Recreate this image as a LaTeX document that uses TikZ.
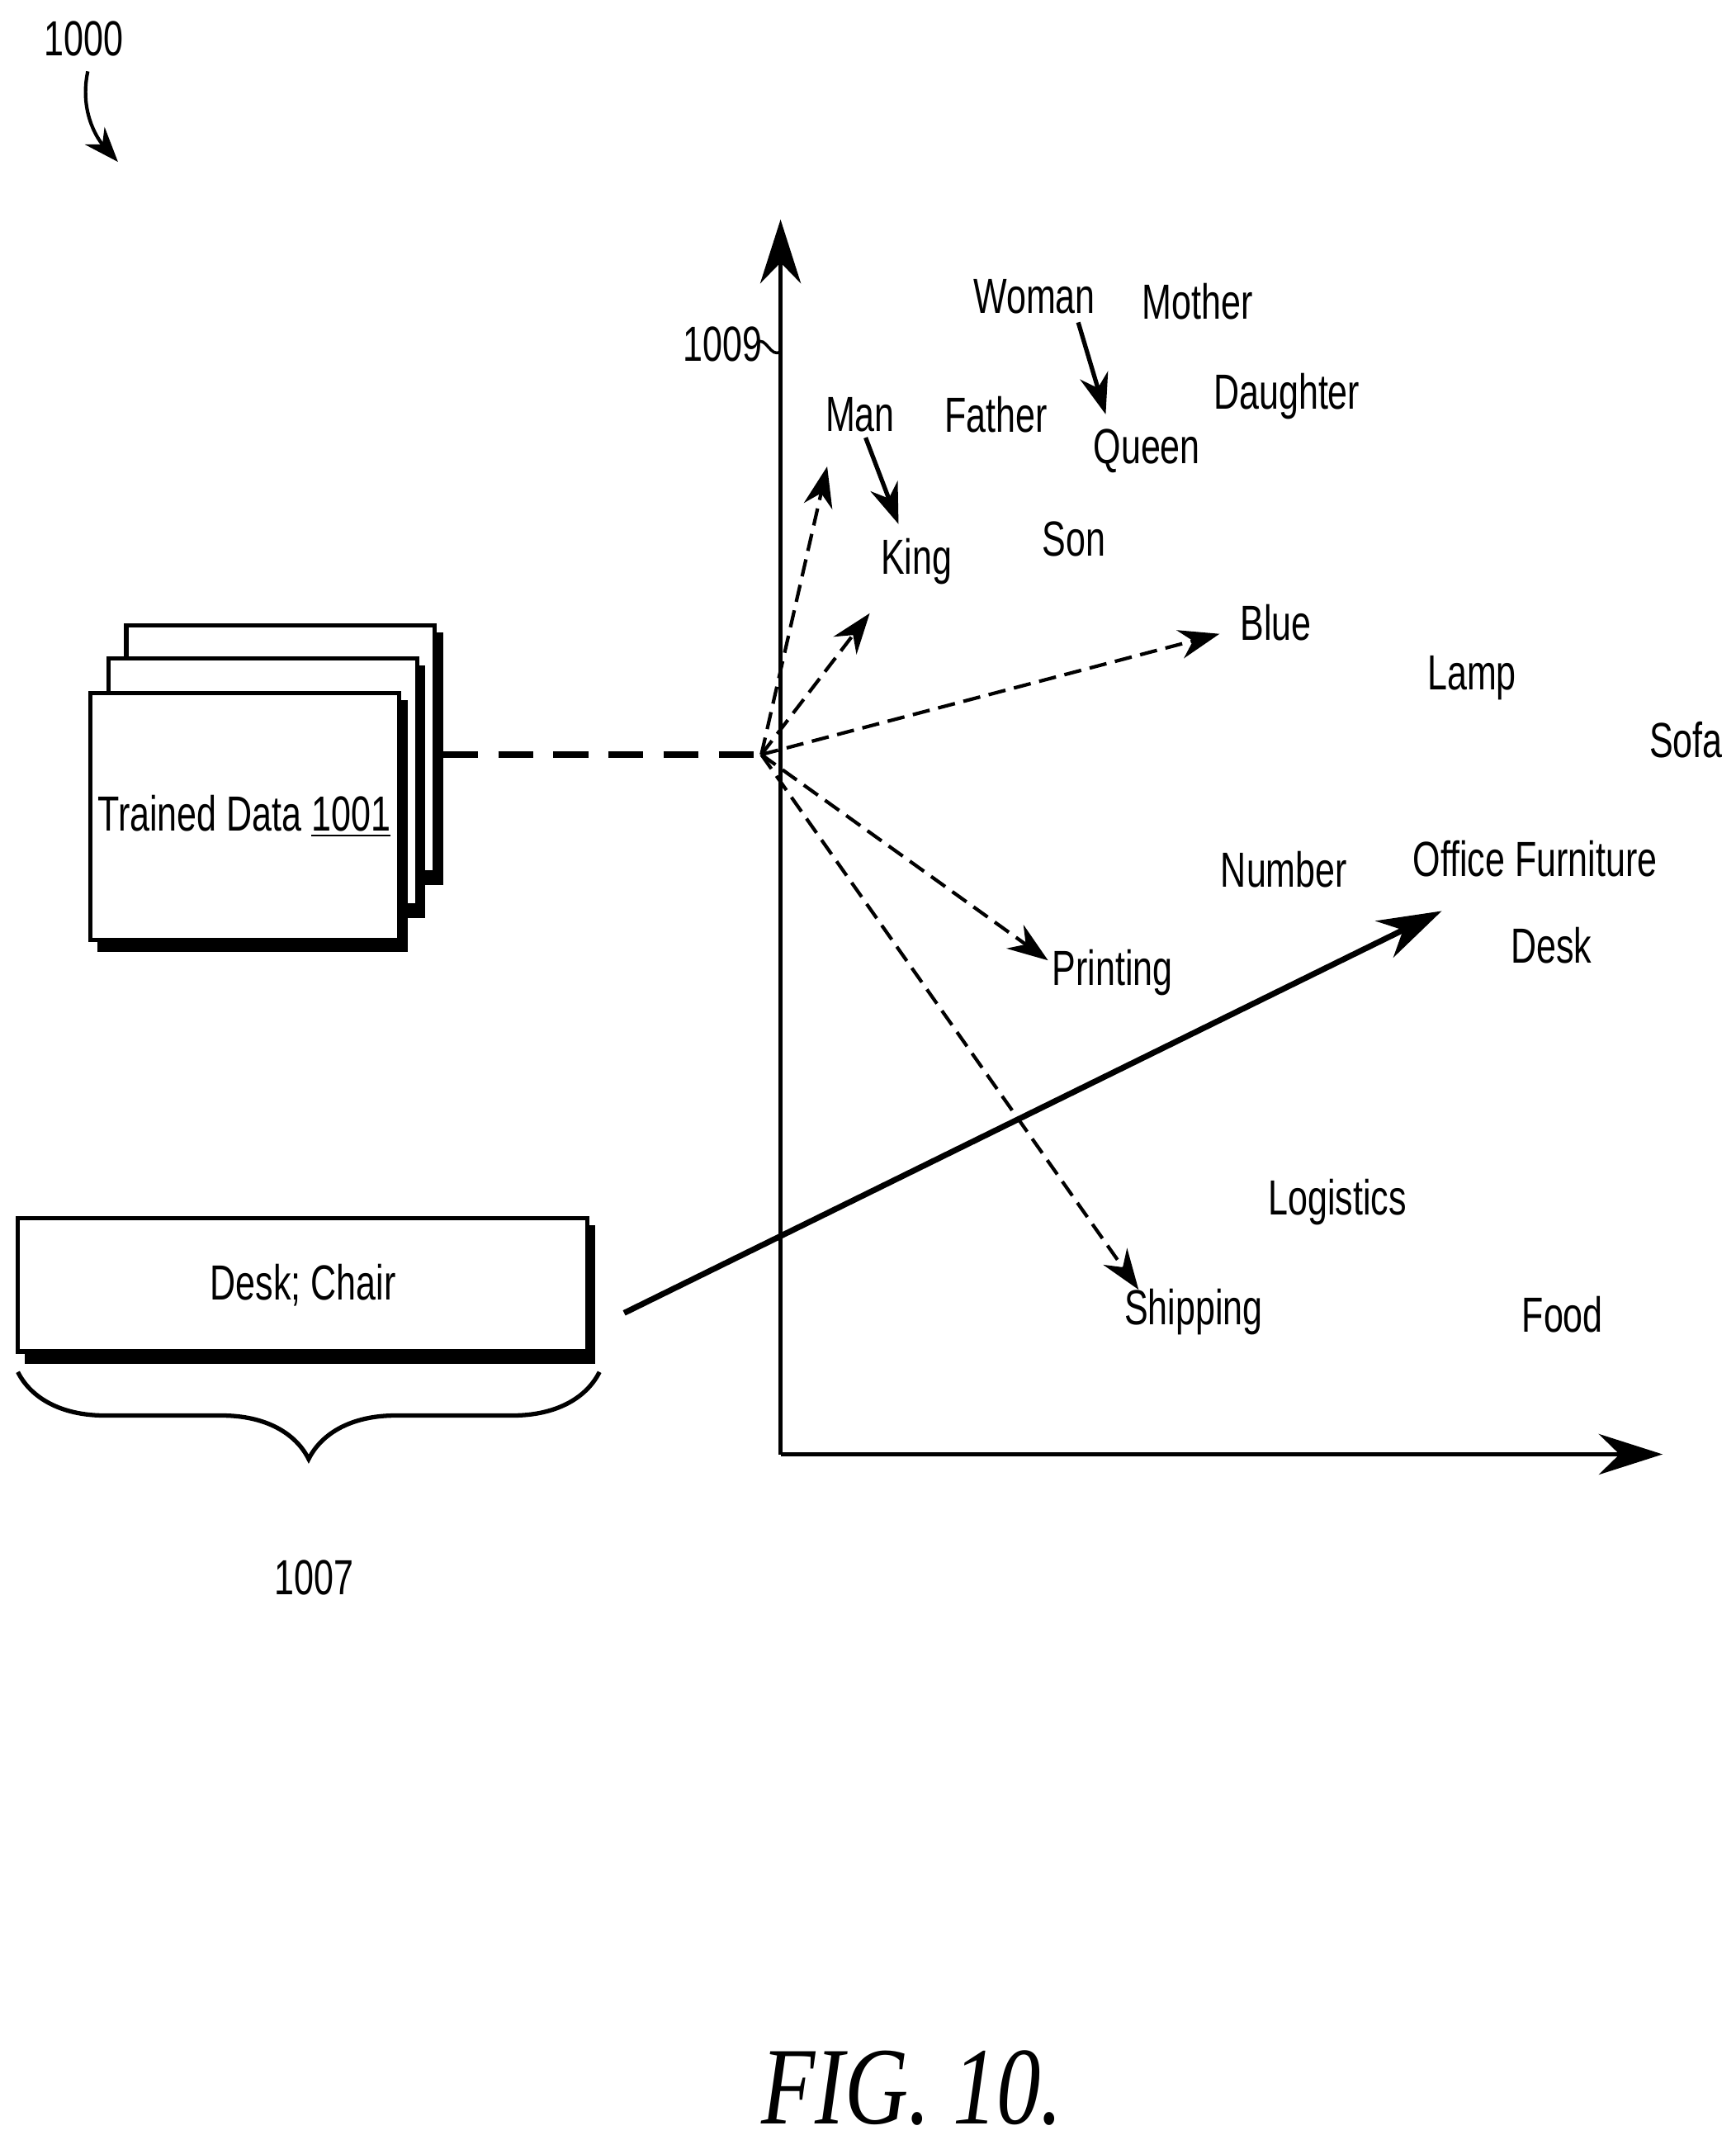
\documentclass[tikz,border=0pt]{standalone}
\usepackage{fontspec}
\setmainfont{Liberation Sans}[FakeStretch=0.72]
\newfontfamily\figfont{Liberation Serif}
\usetikzlibrary{arrows.meta,decorations.pathreplacing}
\begin{document}
\begin{tikzpicture}[x=0.016617cm,y=-0.016617cm,
  word/.style={font=\fontsize{17}{21}\selectfont, inner sep=0pt},
  vec/.style={line width=1.2pt, dash pattern=on 6pt off 3pt, -{Stealth[length=14pt,width=10pt]}},
  card/.style={draw, line width=1.5pt, fill=white},
  shadow/.style={fill=black}]
% Frame
\useasboundingbox (0,0) rectangle (1265,1570);
% Figure number and its pointer
\node[word] (n1000) at (61,28) {1000};
\draw[line width=1.2pt, -{Stealth[length=12pt,width=9pt]}] (64,52) .. controls (58,80) and (70,100) .. (86,118);
% Axes
\coordinate (O) at (569,1060);
\coordinate (top) at (569,160);
\coordinate (right) at (1212,1060);
\draw[line width=1.5pt, -{Stealth[length=22pt,width=14pt]}] (O) -- (top);
\draw[line width=1.5pt, -{Stealth[length=22pt,width=14pt]}] (O) -- (right);
\node[word] (n1009) at (527,251) {1009};
\draw[line width=1pt] (552,250) .. controls (558,244) and (562,262) .. (569,256);
% Trained data stack
\foreach \dx/\dy in {26/-49, 13/-25, 0/0}{
  \fill[shadow] (71+\dx,510+\dy) rectangle (297+\dx,694+\dy);
  \draw[card] (66+\dx,505+\dy) rectangle (291+\dx,685+\dy);
}
\node[word] (trained) at (178,595) {Trained Data \underline{1001}};
% Input box
\fill[shadow] (18,893) rectangle (434,994);
\draw[card] (13,888) rectangle (428,985);
\node[word] (input) at (221,937) {Desk; Chair};
\draw[line width=1.5pt, decorate, decoration={brace, mirror, amplitude=30pt}] (13,1000) -- (437,1000);
\node[word] (n1007) at (229,1150) {1007};
% Words
\node[word] (woman) at (754,216) {Woman};
\node[word] (mother) at (873,220) {Mother};
\node[word] (daughter) at (938,289) {Daughter};
\node[word] (man) at (627,302) {Man};
\node[word] (father) at (726,302) {Father};
\node[word] (queen) at (836,329) {Queen};
\node[word] (son) at (783,393) {Son};
\node[word] (king) at (668,409) {King};
\node[word] (blue) at (930,454) {Blue};
\node[word] (lamp) at (1073,494) {Lamp};
\node[word] (sofa) at (1229,539) {Sofa};
\node[word] (number) at (936,634) {Number};
\node[word] (office) at (1119,626) {Office Furniture};
\node[word] (desk) at (1131,689) {Desk};
\node[word] (printing) at (811,709) {Printing};
\node[word] (logistics) at (975,876) {Logistics};
\node[word] (shipping) at (870,956) {Shipping};
\node[word] (food) at (1139,958) {Food};
% Vectors
\coordinate (src) at (555,550);
\coordinate (stack) at (323,550);
\draw[line width=2pt, dash pattern=on 12pt off 7pt] (stack) -- (src);
\draw[vec] (src) -- (603,340);
\draw[vec] (src) -- (634,447);
\draw[vec] (src) -- (889,462);
\draw[vec] (src) -- (764,700);
\draw[vec] (src) -- (830,940);
\draw[line width=1.5pt, -{Stealth[length=14pt,width=10pt]}] (man.south) ++(4,4) -- (655,382);
\draw[line width=1.5pt, -{Stealth[length=14pt,width=10pt]}] (woman.south) ++(32,6) -- (806,302);
\draw[line width=2pt, -{Stealth[length=22pt,width=14pt]}] (455,957) -- (1051,664);
% Caption
\node[font=\figfont\itshape\fontsize{38}{44}\selectfont, inner sep=0pt, xscale=0.8] (caption) at (665,1522) {FIG. 10.};
\end{tikzpicture}
\end{document}
